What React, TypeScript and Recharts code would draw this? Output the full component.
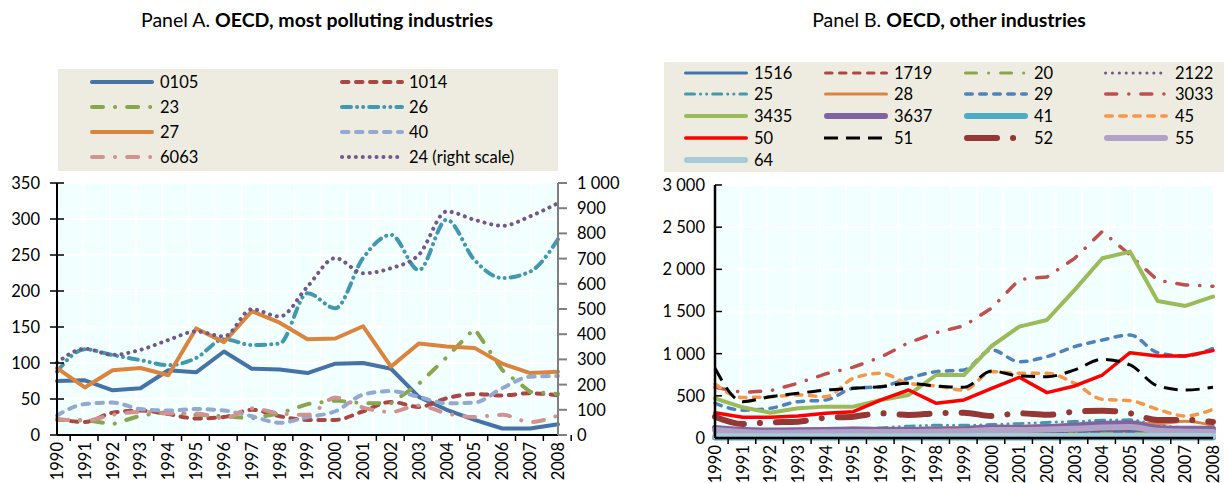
import React from 'react';
import { LineChart, Line, XAxis, YAxis, CartesianGrid, Legend } from 'recharts';

const years = ['1990','1991','1992','1993','1994','1995','1996','1997','1998','1999','2000','2001','2002','2003','2004','2005','2006','2007','2008'];

// Panel A (left scale unless noted)
const a0105 = [75,76,62,65,90,87,116,92,91,86,99,100,92,53,35,21,9,9,15];
const a1014 = [22,18,31,34,29,23,25,35,26,21,21,33,46,39,51,57,55,58,55];
const a23 = [21,21,15,27,32,28,26,23,30,43,48,44,44,71,108,148,90,60,57];
const a26 = [88,119,111,104,97,107,133,125,127,197,176,246,278,229,299,243,218,227,272];
const a27 = [93,66,90,93,83,148,129,172,156,133,134,151,95,127,123,121,99,86,88];
const a40 = [27,43,45,36,34,36,34,26,17,25,33,56,61,53,44,45,65,81,82];
const a6063 = [22,20,28,32,30,30,23,37,30,28,52,38,32,41,30,25,28,18,27];
const a24 = [287,342,318,338,377,411,391,499,470,589,702,642,662,715,887,854,830,868,920]; // right scale

// Panel B
const b1516 = [55,50,48,50,52,55,55,55,58,60,65,65,68,72,78,80,70,65,60];
const b1719 = [70,60,58,60,62,65,66,66,68,70,78,78,82,88,95,100,85,78,75];
const b20 = [40,35,33,35,36,38,38,38,40,42,46,46,48,52,56,58,50,45,42];
const b2122 = [60,55,52,55,57,60,60,60,63,65,72,72,75,80,88,92,80,72,68];
const b25 = [90,85,80,85,90,100,120,140,150,150,160,170,185,195,210,215,150,120,100];
const b28 = [110,100,100,105,110,115,115,115,120,125,135,140,145,155,165,175,170,200,150];
const b29 = [411,330,352,431,450,589,609,708,787,807,1044,905,965,1083,1162,1222,1012,973,1064];
const b3033 = [600,540,560,650,760,840,960,1130,1250,1330,1540,1880,1910,2130,2450,2170,1870,1815,1800];
const b3435 = [470,364,300,352,372,372,450,510,750,747,1091,1321,1400,1756,2131,2210,1625,1566,1676];
const b3637 = [120,95,88,92,95,100,95,95,100,105,125,120,130,145,170,175,120,110,110];
const b41 = [6,5,5,5,5,6,6,6,6,6,7,7,7,7,8,8,7,6,6];
const b45 = [640,480,490,510,490,708,767,648,617,569,787,767,767,648,459,443,340,261,340];
const b50 = [300,245,245,261,293,312,451,569,411,451,589,720,538,617,747,1012,973,973,1036];
const b51 = [826,431,490,530,569,589,609,648,617,601,795,735,727,807,933,866,617,569,601];
const b52 = [253,166,186,194,240,253,293,273,293,300,261,293,275,312,324,293,213,215,190];
const b55 = [95,70,62,65,68,70,70,70,75,80,95,95,100,110,125,130,85,75,70];
const b64 = [25,22,20,20,20,22,22,22,22,22,25,25,25,25,28,28,25,25,25];

const ticksALeft = [0,50,100,150,200,250,300,350];
const ticksARight = [0,100,200,300,400,500,600,700,800,900,1000];
const ticksB = [0,500,1000,1500,2000,2500,3000];

type S = {
  key: string; label: string; values: number[]; color: string; width: number;
  dash?: string; cap?: 'round' | 'butt'; curve: 'linear' | 'monotone'; axis?: string;
};

const DASH = '6.5 7.5';
const DASHDOT = '11 12 0.1 12';
const DASHDOTDOT = '9 6 0.1 6 0.1 6';
const DOT = '0.1 6.8';

const seriesA: S[] = [
  { key: 'a0105', label: '0105', values: a0105, color: '#4572A7', width: 4, curve: 'linear', axis: 'left' },
  { key: 'a1014', label: '1014', values: a1014, color: '#AA4643', width: 4, dash: DASH, cap: 'round', curve: 'monotone', axis: 'left' },
  { key: 'a23', label: '23', values: a23, color: '#89A54E', width: 4, dash: DASHDOT, cap: 'round', curve: 'linear', axis: 'left' },
  { key: 'a26', label: '26', values: a26, color: '#4198AF', width: 4, dash: DASHDOTDOT, cap: 'round', curve: 'monotone', axis: 'left' },
  { key: 'a27', label: '27', values: a27, color: '#DB843D', width: 4, curve: 'linear', axis: 'left' },
  { key: 'a40', label: '40', values: a40, color: '#93A9CF', width: 4, dash: DASH, cap: 'round', curve: 'monotone', axis: 'left' },
  { key: 'a6063', label: '6063', values: a6063, color: '#D19392', width: 4, dash: DASHDOT, cap: 'round', curve: 'monotone', axis: 'left' },
  { key: 'a24', label: '24 (right scale)', values: a24, color: '#71588F', width: 4, dash: DOT, cap: 'round', curve: 'monotone', axis: 'right' },
];

const seriesB: S[] = [
  { key: 'b1516', label: '1516', values: b1516, color: '#4572A7', width: 3, curve: 'linear' },
  { key: 'b1719', label: '1719', values: b1719, color: '#AA4643', width: 3, dash: DASH, cap: 'round', curve: 'monotone' },
  { key: 'b20', label: '20', values: b20, color: '#89A54E', width: 3, dash: DASHDOT, cap: 'round', curve: 'linear' },
  { key: 'b2122', label: '2122', values: b2122, color: '#71588F', width: 3, dash: DOT, cap: 'round', curve: 'monotone' },
  { key: 'b25', label: '25', values: b25, color: '#4198AF', width: 3, dash: DASHDOTDOT, cap: 'round', curve: 'monotone' },
  { key: 'b28', label: '28', values: b28, color: '#DB843D', width: 3, curve: 'monotone' },
  { key: 'b29', label: '29', values: b29, color: '#4F81BD', width: 3.5, dash: DASH, cap: 'round', curve: 'monotone' },
  { key: 'b3033', label: '3033', values: b3033, color: '#C0504D', width: 3.5, dash: DASHDOT, cap: 'round', curve: 'linear' },
  { key: 'b3435', label: '3435', values: b3435, color: '#9BBB59', width: 4, curve: 'linear' },
  { key: 'b3637', label: '3637', values: b3637, color: '#8064A2', width: 6, curve: 'monotone' },
  { key: 'b41', label: '41', values: b41, color: '#4BACC6', width: 6, curve: 'monotone' },
  { key: 'b45', label: '45', values: b45, color: '#F79646', width: 3.5, dash: DASH, cap: 'round', curve: 'monotone' },
  { key: 'b50', label: '50', values: b50, color: '#FF0000', width: 3.5, curve: 'linear' },
  { key: 'b51', label: '51', values: b51, color: '#000000', width: 3, dash: '14 8', cap: 'butt', curve: 'monotone' },
  { key: 'b52', label: '52', values: b52, color: '#953735', width: 6, dash: '30 16 0.1 16', cap: 'round', curve: 'monotone' },
  { key: 'b55', label: '55', values: b55, color: '#B3A2C7', width: 6, curve: 'monotone' },
  { key: 'b64', label: '64', values: b64, color: '#A5CAD8', width: 6, curve: 'monotone' },
];

const buildData = (series: S[]) =>
  years.map((y, i) => {
    const row: Record<string, any> = { year: y };
    series.forEach((s) => { row[s.key] = s.values[i]; });
    return row;
  });

const dataA = buildData(seriesA);
const dataB = buildData(seriesB);

const FONT = 'Lato, "DejaVu Sans", sans-serif';
const FS = 16.5;

const fmt = (v: number) => String(v).replace(/\B(?=(\d{3})+(?!\d))/g, '\u00a0');

// layout
const A_W = 620, H = 483;
const A_LEFT = 57, A_RIGHT = 62, A_TOP = 183, A_BOTTOM = 48;
const B_W = 604;
const B_LEFT = 95, B_RIGHT = 11, B_TOP = 185, B_BOTTOM = 45;
const bandA = (A_W - A_LEFT - A_RIGHT) / years.length;
const bandB = (B_W - B_LEFT - B_RIGHT) / years.length;

const makeXTick = (band: number) => (props: any) => {
  const { x, y, payload } = props;
  return (
    <g>
      <line x1={x + band / 2} x2={x + band / 2} y1={y} y2={y + 6} stroke="#000" strokeWidth={1.5} />
      <text transform={`translate(${x},${y + 7}) rotate(-90)`} textAnchor="end" dy="0.36em"
        fontFamily={FONT} fontSize={FS} fill="#000">{payload.value}</text>
    </g>
  );
};

const makeLeftTick = (inner: number, outer: number, gap: number) => (props: any) => {
  const { x, y, payload } = props;
  return (
    <g>
      <line x1={x - outer} x2={x + inner} y1={y} y2={y} stroke="#000" strokeWidth={1.5} />
      <text x={x - gap} y={y} dy="0.36em" textAnchor="end" fontFamily={FONT} fontSize={FS} fill="#000">{fmt(payload.value)}</text>
    </g>
  );
};

const RightTickA = (props: any) => {
  const { x, y, payload } = props;
  return (
    <g>
      <line x1={x} x2={x + 9} y1={y} y2={y} stroke="#7F7F7F" strokeWidth={2} />
      <text x={x + 19} y={y} dy="0.36em" textAnchor="start" fontFamily={FONT} fontSize={FS} fill="#000">{fmt(payload.value)}</text>
    </g>
  );
};

const makeLegend = (series: S[], cols: number[], textCols: number[], rows: number[], lineLen: number) => () => (
  <div style={{ position: 'relative', width: '100%', height: '100%', background: '#EEECE1' }}>
    {series.map((s, i) => {
      const c = i % cols.length;
      const r = Math.floor(i / cols.length);
      const inset = s.cap === 'round' || !s.dash ? s.width / 2 : 0;
      return (
        <React.Fragment key={s.key}>
          <svg style={{ position: 'absolute', left: cols[c], top: rows[r] - 5 }} width={lineLen + 4} height={10}>
            <line x1={2 + inset} x2={lineLen + 2 - inset} y1={5} y2={5}
              stroke={s.color} strokeWidth={s.width} strokeDasharray={s.dash}
              strokeLinecap={s.dash ? (s.cap || 'butt') : 'round'} />
          </svg>
          <div style={{ position: 'absolute', left: textCols[c], top: rows[r] - 11, fontFamily: FONT, fontSize: FS, lineHeight: '22px', whiteSpace: 'nowrap', color: '#000' }}>
            {s.label}
          </div>
        </React.Fragment>
      );
    })}
  </div>
);

const LegendA = makeLegend(seriesA, [30, 280], [102, 351], [13, 38, 63, 88], 64);
const LegendB = makeLegend(seriesB, [18, 158, 298, 438], [90, 230, 370, 511], [11, 32, 54, 76, 98], 64);

const gridGen = (band: number) => (props: any) => {
  const off = props.offset;
  const out: number[] = [];
  for (let i = 1; i < years.length; i++) out.push(off.left + i * band);
  return out;
};

const renderLines = (series: S[]) =>
  series.map((s) => (
    <Line key={s.key} dataKey={s.key} name={s.label} type={s.curve} yAxisId={s.axis || 'left'}
      stroke={s.color} strokeWidth={s.width} strokeDasharray={s.dash}
      strokeLinecap={s.dash ? (s.cap || 'butt') : 'round'} strokeLinejoin="round"
      dot={false} activeDot={false} isAnimationActive={false} />
  ));

const Title = ({ center, a, b }: { center: number; a: string; b: string }) => (
  <div style={{ position: 'absolute', left: center - 300, width: 600, top: 6, textAlign: 'center', fontFamily: FONT, fontSize: 19.5, lineHeight: '28px', color: '#000', whiteSpace: 'nowrap' }}>
    {a}<b>{b}</b>
  </div>
);

export default function App() {
  return (
    <div style={{ position: 'absolute', left: 0, top: 0, width: 1224, height: 483, background: '#fff', overflow: 'hidden' }}>
      <Title center={317} a="Panel A. " b="OECD, most polluting industries" />
      <Title center={949} a="Panel B. " b="OECD, other industries" />
      <div style={{ position: 'absolute', left: 0, top: 0 }}>
        <LineChart width={A_W} height={H} data={dataA} margin={{ top: A_TOP, right: 0, left: 0, bottom: 0 }}>
          <CartesianGrid yAxisId="left" fill="#F2FFFF" stroke="#FFFFFF" strokeWidth={2}
            verticalCoordinatesGenerator={gridGen(bandA)} />
          <XAxis dataKey="year" interval={0} height={A_BOTTOM} tickSize={0} tickMargin={0}
            tick={makeXTick(bandA)} tickLine={false} axisLine={{ stroke: '#000', strokeWidth: 2 }} />
          <XAxis xAxisId="top" dataKey="year" orientation="top" height={0} tick={false} tickLine={false}
            axisLine={{ stroke: '#7F7F7F', strokeWidth: 2 }} />
          <YAxis yAxisId="left" domain={[0, 350]} ticks={ticksALeft} width={A_LEFT} tickSize={0} tickMargin={0}
            tick={makeLeftTick(7, 7, 17)} tickLine={false} axisLine={{ stroke: '#000', strokeWidth: 2 }} interval={0} />
          <YAxis yAxisId="right" orientation="right" domain={[0, 1000]} ticks={ticksARight} width={A_RIGHT} tickSize={0} tickMargin={0}
            tick={RightTickA} tickLine={false} axisLine={{ stroke: '#7F7F7F', strokeWidth: 2 }} interval={0} />
          <Legend layout="horizontal" verticalAlign="middle" align="center"
            wrapperStyle={{ top: 69, left: 58, width: 500, height: 102 }} content={LegendA} />
          {renderLines(seriesA)}
        </LineChart>
      </div>
      <div style={{ position: 'absolute', left: 620, top: 0 }}>
        <LineChart width={B_W} height={H} data={dataB} margin={{ top: B_TOP, right: B_RIGHT, left: 0, bottom: 0 }}>
          <CartesianGrid yAxisId="left" fill="#F2FFFF" stroke="#FFFFFF" strokeWidth={2}
            verticalCoordinatesGenerator={gridGen(bandB)} />
          <XAxis dataKey="year" interval={0} height={B_BOTTOM} tickSize={0} tickMargin={0}
            tick={makeXTick(bandB)} tickLine={false} axisLine={{ stroke: '#000', strokeWidth: 2.5 }} />
          <XAxis xAxisId="top" dataKey="year" orientation="top" height={0} tick={false} tickLine={false}
            axisLine={{ stroke: '#000', strokeWidth: 2 }} />
          <YAxis yAxisId="left" domain={[0, 3000]} ticks={ticksB} width={B_LEFT} tickSize={0} tickMargin={0}
            tick={makeLeftTick(7, 0, 10)} tickLine={false} axisLine={{ stroke: '#000', strokeWidth: 2.5 }} interval={0} />
          <YAxis yAxisId="r" orientation="right" domain={[0, 3000]} width={0} tick={false} tickLine={false}
            axisLine={{ stroke: '#000', strokeWidth: 2 }} />
          <Legend layout="horizontal" verticalAlign="middle" align="center"
            wrapperStyle={{ top: 62, left: 44, width: 560, height: 110 }} content={LegendB} />
          {renderLines(seriesB)}
        </LineChart>
      </div>
    </div>
  );
}
